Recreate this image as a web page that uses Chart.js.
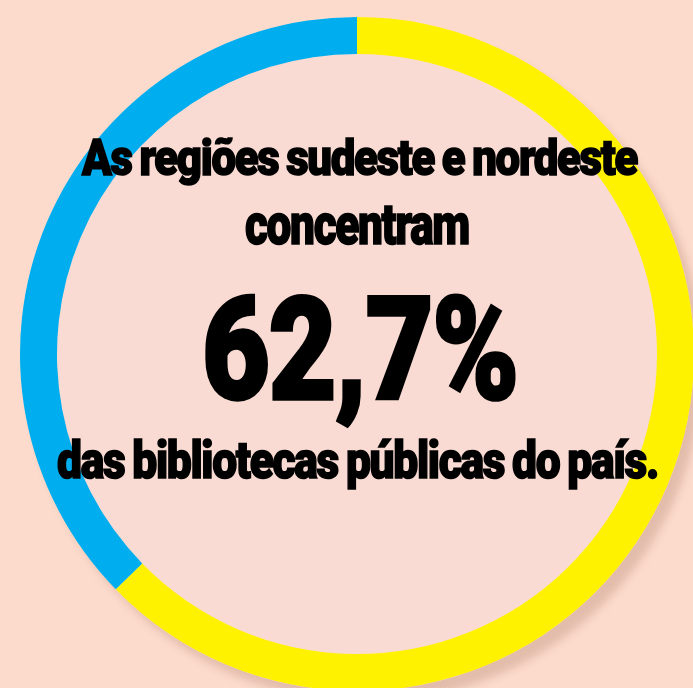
<!DOCTYPE html>
<html>
<head>
<meta charset="utf-8">
<script src="https://cdn.jsdelivr.net/npm/chart.js@4/dist/chart.umd.min.js"></script>
<style>
  html, body { margin: 0; padding: 0; }
  body { width: 693px; height: 688px; overflow: hidden; background: #fcdbcc; position: relative; }
  #wrap { position: absolute; left: -3px; top: -6px; width: 720px; height: 720px; }
  .txt {
    position: absolute; white-space: nowrap; color: #000;
    font-family: Roboto, Inter, "Open Sans", sans-serif; font-weight: 900;
    letter-spacing: -0.03em; word-spacing: -0.04em;
    -webkit-text-stroke: 1.6px #000;
    transform-origin: 0 0; line-height: 1;
  }
  #t3 { -webkit-text-stroke: 3.5px #000; letter-spacing: -0.01em; }
</style>
</head>
<body>
<div id="wrap"><canvas id="ring" width="720" height="720"></canvas></div>
<div class="txt" id="t1">As regiões sudeste e nordeste</div>
<div class="txt" id="t2">concentram</div>
<div class="txt" id="t3">62,7%</div>
<div class="txt" id="t4">das bibliotecas públicas do país.</div>
<script>
// dados: participação das regiões no total de bibliotecas públicas
const regioes = ['Sudeste e Nordeste', 'Demais regiões'];
const percentuais = [62.7, 37.3];

// fundo rosado do círculo, com sombra para baixo/direita
const discoFundo = {
  id: 'discoFundo',
  beforeDatasetsDraw(chart) {
    const arc = chart.getDatasetMeta(0).data[0];
    if (!arc) return;
    const ctx = chart.ctx;
    ctx.save();
    ctx.shadowColor = 'rgba(140, 80, 60, 0.22)';
    ctx.shadowBlur = 8;
    ctx.shadowOffsetX = 9;
    ctx.shadowOffsetY = 11;
    ctx.beginPath();
    ctx.arc(arc.x, arc.y, arc.outerRadius, 0, Math.PI * 2);
    ctx.fillStyle = '#f9dbd3';
    ctx.fill();
    ctx.restore();
  }
};

new Chart(document.getElementById('ring'), {
  type: 'doughnut',
  data: {
    labels: regioes,
    datasets: [{
      data: percentuais,
      backgroundColor: ['#fff200', '#00aeef'],
      borderWidth: 0,
      hoverOffset: 0,
      offset: 0
    }]
  },
  options: {
    responsive: false,
    animation: false,
    cutout: 300,
    rotation: 0,
    layout: { padding: 23 },
    plugins: { legend: { display: false }, tooltip: { enabled: false } }
  },
  plugins: [discoFundo]
});

// ajusta cada linha de texto à largura e posição medidas
function encaixa(id, size, left, right, top) {
  const el = document.getElementById(id);
  el.style.fontSize = size + 'px';
  const w = el.getBoundingClientRect().width;
  const s = (right - left) / w;
  el.style.left = left + 'px';
  el.style.top = top + 'px';
  el.style.transform = 'scaleX(' + s + ')';
}
encaixa('t1', 50, 82, 637, 133);
encaixa('t2', 58, 245, 469, 195);
encaixa('t3', 142, 202, 518, 280);
encaixa('t4', 52, 57, 658, 435);
</script>
</body>
</html>
